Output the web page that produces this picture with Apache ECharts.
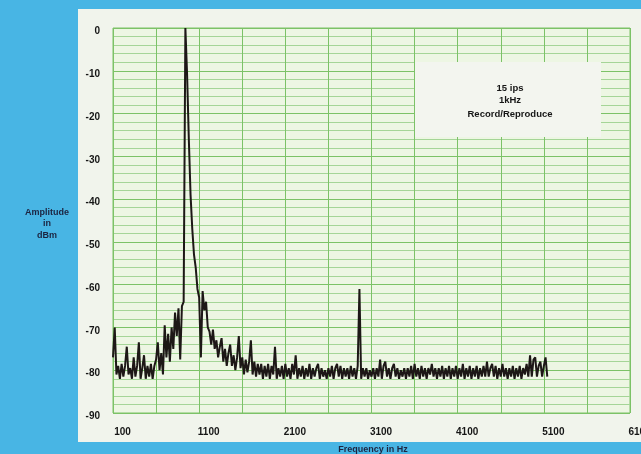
<!DOCTYPE html>
<html>
<head>
<meta charset="utf-8">
<script src="https://cdn.jsdelivr.net/npm/echarts@6/dist/echarts.min.js"></script>
<style>
html,body{margin:0;padding:0;background:#48b5e4;overflow:hidden;}
#chart{width:641px;height:454px;}
</style>
</head>
<body>
<div id="chart"></div>
<script>
// Frequency bins (Hz)
const freqHz = [
  100,120,140,160,180,200,220,240,260,280,
  300,320,340,360,380,400,420,440,460,480,
  500,520,540,560,580,600,620,640,660,680,
  700,720,740,760,780,800,820,840,860,880,
  900,920,940,960,980,1000,1020,1040,1060,1080,
  1100,1120,1140,1160,1180,1200,1220,1240,1260,1280,
  1300,1320,1340,1360,1380,1400,1420,1440,1460,1480,
  1500,1520,1540,1560,1580,1600,1620,1640,1660,1680,
  1700,1720,1740,1760,1780,1800,1820,1840,1860,1880,
  1900,1920,1940,1960,1980,2000,2020,2040,2060,2080,
  2100,2120,2140,2160,2180,2200,2220,2240,2260,2280,
  2300,2320,2340,2360,2380,2400,2420,2440,2460,2480,
  2500,2520,2540,2560,2580,2600,2620,2640,2660,2680,
  2700,2720,2740,2760,2780,2800,2820,2840,2860,2880,
  2900,2920,2940,2960,2980,3000,3020,3040,3060,3080,
  3100,3120,3140,3160,3180,3200,3220,3240,3260,3280,
  3300,3320,3340,3360,3380,3400,3420,3440,3460,3480,
  3500,3520,3540,3560,3580,3600,3620,3640,3660,3680,
  3700,3720,3740,3760,3780,3800,3820,3840,3860,3880,
  3900,3920,3940,3960,3980,4000,4020,4040,4060,4080,
  4100,4120,4140,4160,4180,4200,4220,4240,4260,4280,
  4300,4320,4340,4360,4380,4400,4420,4440,4460,4480,
  4500,4520,4540,4560,4580,4600,4620,4640,4660,4680,
  4700,4720,4740,4760,4780,4800,4820,4840,4860,4880,
  4900,4920,4940,4960,4980,5000,5020,5040,5060,5080,
  5100,5120,5140
];
// Amplitude (dBm)
const ampDbm = [
  -77,-70,-81,-79,-82,-78.5,-81.5,-79,-74.5,-81,
  -79.5,-82,-77,-81.5,-79,-73.5,-82,-79.5,-76.5,-82,
  -79,-81.5,-78.5,-82,-79,-77.5,-73.5,-80,-76,-81,
  -69.5,-77,-71.5,-78,-70,-75,-66.5,-72,-65.5,-77.5,
  -65,-64,0,-11,-26,-39,-47,-53,-56,-61,
  -63,-77,-61.5,-66,-64,-70,-71,-74,-70.5,-75,
  -73,-77,-74.5,-72.5,-78,-75,-79,-76,-74,-79,
  -76.5,-80,-77,-72,-79.5,-77,-81,-77.5,-80.5,-78,
  -73,-81,-78,-81.5,-78.5,-81,-78.5,-82,-79,-81.5,
  -78.5,-82,-79,-81,-74.5,-82,-79.5,-81.5,-79,-82,
  -78.5,-81.5,-79.5,-82,-78.5,-81,-76.5,-82,-79.5,-81.5,
  -79,-82,-79.5,-81.5,-78.5,-82,-79.5,-81.5,-79.5,-78.5,
  -82,-79.5,-81.5,-80,-82,-79.5,-81.5,-79,-82,-79.5,
  -78.5,-81.5,-79,-82,-79.5,-81.5,-79.5,-82,-79,-81.5,
  -79.5,-82,-79,-61,-82,-79.5,-81.5,-79.5,-82,-80,
  -81.5,-79.5,-82,-79.5,-81.5,-77.5,-82,-79,-78,-81.5,
  -79.5,-82,-79.5,-78.5,-81.5,-79.5,-82,-80,-81.5,-79.5,
  -82,-79.5,-81.5,-79,-82,-78.5,-81.5,-79.5,-82,-79,
  -81.5,-79.5,-82,-79.5,-81,-78.5,-81.5,-79.5,-82,-79.5,
  -81.5,-79,-82,-79.5,-81.5,-79,-82,-79.5,-81.5,-79,
  -82,-79.5,-81.5,-78.5,-82,-79.5,-81.5,-79,-82,-79.5,
  -81.5,-79,-82,-79.5,-81.5,-79,-81.5,-78,-81.5,-79.5,
  -78.5,-81.5,-79,-82,-79.5,-81.5,-78.5,-81.5,-79.5,-82,
  -79.5,-81.5,-79,-82,-79.5,-81.5,-79,-82,-79.5,-81,
  -78.5,-81.5,-76.5,-81.5,-77.5,-77,-81.5,-79,-78,-81.5,
  -79,-77,-81.5
];
const xAxisRange = [100, 6100];
const yAxisRange = [-90, 0];
const annotationLines = ['15 ips', '1kHz', 'Record/Reproduce'];
const yTitleLines = ['Amplitude', 'in', 'dBm'];
const xTitle = 'Frequency in Hz';

const seriesData = freqHz.map((f, i) => [f, ampDbm[i]]);

const FONT = '"Liberation Sans", Arial, sans-serif';
const chart = echarts.init(document.getElementById('chart'));
chart.setOption({
  animation: false,
  backgroundColor: '#48b5e4',
  grid: {
    left: 113, right: 11, top: 28, bottom: 41,
    outerBoundsMode: 'none', containLabel: false,
    show: true, backgroundColor: '#edf6e3', borderColor: '#7cc267', borderWidth: 1
  },
  xAxis: {
    type: 'value', min: xAxisRange[0], max: xAxisRange[1], interval: 1000,
    axisLine: { show: false }, axisTick: { show: false },
    axisLabel: { color: '#161616', fontWeight: 'bold', fontSize: 10, fontFamily: FONT, margin: 14, padding: [0, 0, 0, 19],
      formatter: (v) => String(v), hideOverlap: false },
    splitLine: { show: true, lineStyle: { color: '#7cc267', width: 1 } },
    minorTick: { show: false, splitNumber: 2 },
    minorSplitLine: { show: true, lineStyle: { color: '#7cc267', width: 1 } }
  },
  yAxis: {
    type: 'value', min: yAxisRange[0], max: yAxisRange[1], interval: 10,
    axisLine: { show: false }, axisTick: { show: false },
    axisLabel: { color: '#161616', fontWeight: 'bold', fontSize: 10, fontFamily: FONT, margin: 13,
      verticalAlign: 'top', lineHeight: 7, formatter: (v) => String(v) },
    splitLine: { show: true, lineStyle: { color: '#7cc267', width: 1 } },
    minorTick: { show: false, splitNumber: 5 },
    minorSplitLine: { show: true, lineStyle: { color: '#a5d597', width: 1 } }
  },
  series: [{
    type: 'line', data: seriesData, showSymbol: false, symbol: 'none',
    lineStyle: { color: '#1d1716', width: 2, join: 'bevel' }, z: 5
  }],
  graphic: [
    { type: 'rect', z: -10, shape: { x: 78, y: 9, width: 600, height: 433 }, style: { fill: '#f1f4ec' } },
    { type: 'rect', z: 10, shape: { x: 415, y: 62, width: 186, height: 75 }, style: { fill: '#f3f5ef' } },
    { type: 'text', z: 11, x: 510, y: 88, style: { text: annotationLines[0], font: 'bold 9.5px ' + FONT, fill: '#161616', textAlign: 'center', textVerticalAlign: 'middle' } },
    { type: 'text', z: 11, x: 510, y: 100, style: { text: annotationLines[1], font: 'bold 9.5px ' + FONT, fill: '#161616', textAlign: 'center', textVerticalAlign: 'middle' } },
    { type: 'text', z: 11, x: 510, y: 114.5, style: { text: annotationLines[2], font: 'bold 9.5px ' + FONT, fill: '#161616', textAlign: 'center', textVerticalAlign: 'middle' } },
    { type: 'text', z: 11, x: 47, y: 213, style: { text: yTitleLines[0], font: 'bold 9px ' + FONT, fill: '#1c2440', textAlign: 'center', textVerticalAlign: 'middle' } },
    { type: 'text', z: 11, x: 47, y: 224, style: { text: yTitleLines[1], font: 'bold 9px ' + FONT, fill: '#1c2440', textAlign: 'center', textVerticalAlign: 'middle' } },
    { type: 'text', z: 11, x: 47, y: 235.5, style: { text: yTitleLines[2], font: 'bold 9px ' + FONT, fill: '#1c2440', textAlign: 'center', textVerticalAlign: 'middle' } },
    { type: 'text', z: 11, x: 373, y: 449.5, style: { text: xTitle, font: 'bold 9px ' + FONT, fill: '#1c2440', textAlign: 'center', textVerticalAlign: 'middle' } }
  ]
});
</script>
</body>
</html>
